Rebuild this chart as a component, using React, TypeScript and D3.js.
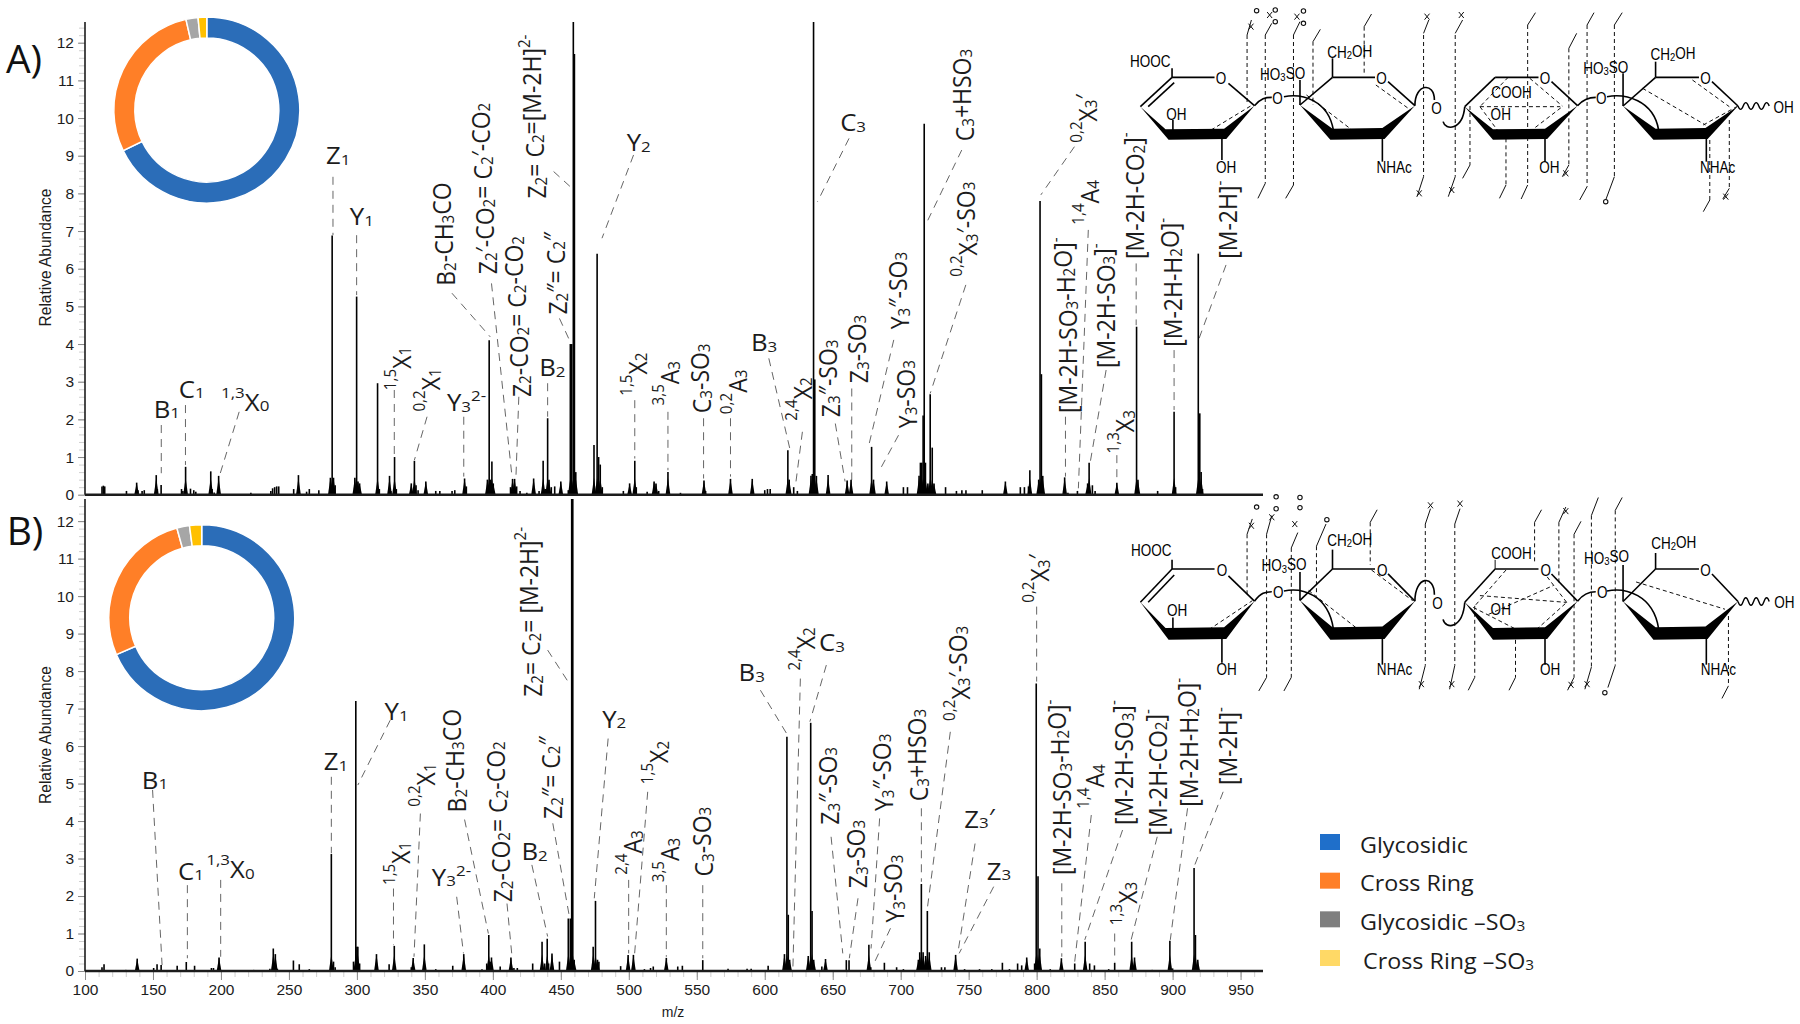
import React, { useEffect, useRef } from 'react';
import * as d3 from 'd3';

// m/z, relative abundance
const peaksA: [number, number][] = [
  [112.5, 0.22], [113.5, 0.24], [114.5, 0.22], [130.5, 0.1], [138, 0.32], [139, 0.12], [142, 0.1], [143.6, 0.12], [152.4, 0.52], [153.2, 0.15], [156, 0.26],
  [171, 0.15], [172, 0.1], [174, 0.74], [177.6, 0.16], [180, 0.12], [181.5, 0.08], [192.5, 0.62], [193.5, 0.15], [195, 0.06], [198.3, 0.5],
  [222, 0.05], [236.7, 0.1], [238, 0.17], [239.5, 0.2], [241, 0.22], [242.5, 0.22], [253.5, 0.15], [257, 0.52], [263, 0.08], [265, 0.15], [272, 0.12],
  [280.5, 0.45], [281.8, 6.88], [282.8, 0.45], [284, 0.25], [298.5, 0.45], [299.8, 5.26], [300.8, 0.35], [302, 0.3], [315.2, 2.96], [316.5, 0.15], [324, 0.5], [325, 0.1], [327.7, 1.0], [329, 0.15],
  [340, 0.3], [342.3, 0.9], [343.5, 0.25], [345, 0.12], [350.7, 0.35], [358, 0.1], [361, 0.1], [370, 0.1], [372, 0.12], [379.2, 0.43], [380.5, 0.22],
  [396, 0.4], [397.3, 4.1], [398.3, 0.4], [399.3, 0.88], [400.3, 0.3], [413, 0.2], [414.5, 0.42], [416, 0.42], [417.5, 0.22], [420, 0.1], [425, 0.05],
  [430, 0.43], [434, 0.1], [437, 0.9], [438.5, 0.15], [440.3, 2.03], [441.3, 0.4], [443, 0.2], [445.5, 0.22], [450, 0.35], [455.5, 0.12],
  [457, 4.0], [458, 4.0], [459.2, 12.55], [460, 11.7], [461, 0.6], [474.4, 1.32], [476.7, 6.4], [477.8, 1.0], [479, 0.8], [480.5, 0.2],
  [496, 0.1], [500.6, 0.3], [504.4, 0.9], [505.5, 0.2], [513.5, 0.08], [518.6, 0.35], [520, 0.3], [522, 0.1], [528.8, 0.6], [538, 0.05], [555.3, 0.38], [556.5, 0.1],
  [574.8, 0.42], [590.8, 0.42], [600, 0.12], [602, 0.15], [604, 0.15], [617, 1.18], [618, 0.4], [621.3, 0.2], [624, 0.1], [634, 0.5], [635, 0.55], [635.9, 12.55], [636.8, 3.06], [638, 0.5],
  [646.6, 0.52], [660.6, 0.38], [663.5, 0.4], [678.6, 1.27], [680, 0.4], [689.7, 0.35], [702, 0.2], [705, 0.2], [713.5, 0.5], [714.5, 0.85], [715.5, 0.85], [716.5, 2.1], [717.3, 9.85], [718.2, 0.85], [720, 0.3], [721.7, 2.67], [723.2, 1.25], [724.5, 0.3],
  [733, 0.2], [741, 0.1], [745, 0.12], [748, 0.12], [760, 0.12], [777, 0.35], [788, 0.2], [791, 0.2], [794, 0.22], [795, 0.65], [801.5, 0.4], [802.5, 7.8], [803.5, 3.2], [804.5, 0.5],
  [820.6, 0.46], [823, 0.05], [830, 0.1], [837.5, 0.3], [838.6, 0.85], [841, 0.25], [843, 0.1], [859, 0.32], [873.5, 4.46], [874.5, 0.4], [889, 0.1], [901.1, 2.2], [902.2, 0.2], [918.9, 6.4], [920, 2.16], [921, 0.6], [922, 0.15],
];

const peaksB: [number, number][] = [
  [112.5, 0.1], [114, 0.18], [130, 0.03], [138.4, 0.33], [150.5, 0.08], [153, 0.18], [156, 0.16], [167.8, 0.14], [174.5, 0.24], [180.6, 0.14], [193, 0.08], [194.5, 0.08], [198.6, 0.36],
  [222, 0.03], [224, 0.03], [236, 0.06], [238.5, 0.6], [240, 0.45], [241.5, 0.06], [253.3, 0.28], [257.6, 0.18], [265, 0.05], [272, 0.03], [281.2, 3.12], [282.8, 0.25], [284, 0.1],
  [297.5, 0.25], [299.2, 7.2], [300, 0.65], [300.7, 0.65], [302, 0.2], [314.4, 0.45], [323.7, 0.18], [327.5, 0.67], [340, 0.1], [341.4, 0.35], [349.6, 0.71], [358, 0.05], [370.5, 0.14], [378.6, 0.45],
  [392, 0.05], [395.5, 0.2], [397, 0.96], [398, 0.25], [399, 0.36], [405.4, 0.12], [413.3, 0.36], [415.5, 0.08], [418, 0.08], [429.3, 0.2], [436.2, 0.78], [438, 0.2], [440, 0.86], [441, 0.2], [443.5, 0.47], [449, 0.25],
  [455.5, 1.4], [457, 1.4], [458, 12.59], [458.8, 12.59], [459.8, 0.3], [473.8, 0.65], [475.5, 1.87], [477, 0.3], [478, 0.25],
  [494, 0.13], [499.5, 0.43], [503.4, 0.43], [511.5, 0.05], [516, 0.08], [518, 0.12], [527.6, 0.35], [536, 0.12], [539.4, 0.14], [554.4, 0.29], [573, 0.06], [587, 0.06], [590, 0.06], [602.5, 0.14],
  [614.5, 0.45], [616.3, 6.25], [617.3, 1.5], [618.3, 0.3], [632, 0.4], [633.8, 6.62], [634.8, 1.6], [636, 0.3], [642, 0.12], [644.7, 0.32], [660, 0.29], [662, 0.29], [676.6, 0.7], [678, 0.1], [688, 0.22], [697, 0.1], [702, 0.05],
  [713, 0.3], [714, 0.5], [715.2, 2.32], [716.5, 0.5], [718.3, 0.4], [719.6, 1.6], [721, 0.5], [730, 0.1], [732.5, 0.1], [740.4, 0.43], [747, 0.05], [758, 0.05], [767, 0.05], [774.8, 0.22], [780, 0.05],
  [786, 0.2], [789, 0.15], [792.7, 0.36], [798.5, 0.2], [799.7, 7.67], [801, 2.53], [802.3, 0.6], [810, 0.05], [818.2, 0.34], [828, 0.2], [835.7, 0.78], [839, 0.2], [842.5, 0.15], [853, 0.05], [857.4, 0.22],
  [869.9, 0.78], [872, 0.36], [885, 0.03], [898, 0.81], [900, 0.07], [915.8, 2.75], [916.8, 0.96], [918.5, 0.3],
];

const yTicks = d3.range(0, 13);
const xTicks = d3.range(100, 951, 50);

const fragmentTypes = ['Glycosidic', 'Cross Ring', 'Glycosidic –SO_{3}', 'Cross Ring –SO_{3}'];
const donutShareA = [67.8, 28.6, 2.1, 1.5];
const donutShareB = [68.5, 27.2, 2.2, 2.1];

type Note = { label: string; at: [number, number]; upright?: boolean; leader: [number, number, number, number] };

// label centre and leader ends are in data units (m/z, abundance)
const notesA: Note[] = [
  { label: 'B_{1}', at: [160.2, 2.29], leader: [156.1, 1.85, 156.1, 0.57] },
  { label: 'C_{1}', at: [178.5, 2.82], leader: [173.9, 2.38, 173.9, 0.79] },
  { label: '^{1,3}X_{0}', at: [217.8, 2.56], leader: [213.4, 2.2, 199.5, 0.57] },
  { label: 'Z_{1}', at: [286.2, 9.02], leader: [282.4, 8.44, 282.4, 6.89] },
  { label: 'Y_{1}', at: [303.6, 7.4], leader: [299.8, 6.89, 299.8, 5.3] },
  { label: '^{1,5}X_{1}', at: [329.2, 3.35], upright: true, leader: [327.5, 2.78, 327.5, 1.05] },
  { label: '^{0,2}X_{1}', at: [351, 2.78], upright: true, leader: [351.6, 2.07, 342.3, 0.92] },
  { label: 'Y_{3}^{2-}', at: [380.7, 2.47], leader: [378.6, 2.07, 378.6, 0.48] },
  { label: 'B_{2}-CH_{3}CO', at: [364.7, 6.92], upright: true, leader: [369.9, 5.35, 398.1, 4.19] },
  { label: 'Z_{2}′-CO_{2}= C_{2}′-CO_{2}', at: [395.2, 8.13], upright: true, leader: [399, 5.61, 414.1, 0.48] },
  { label: 'Z_{2}-CO_{2}= C_{2}-CO_{2}', at: [420, 4.73], upright: true, leader: [419.1, 2.6, 417, 0.48] },
  { label: 'B_{2}', at: [443.8, 3.4], leader: [440.3, 2.96, 440.3, 2.07] },
  { label: 'Z_{2}″= C_{2}″', at: [447, 5.88], upright: true, leader: [449, 4.68, 456.9, 4.06] },
  { label: 'Z_{2}= C_{2}=[M-2H]^{2-}', at: [431.6, 10.04], upright: true, leader: [444.7, 8.58, 458.4, 8.13] },
  { label: 'Y_{2}', at: [507.3, 9.37], leader: [503.5, 9.02, 480.3, 6.81] },
  { label: '^{1,5}X_{2}', at: [502.7, 3.2], upright: true, leader: [504.4, 2.51, 504.4, 0.96] },
  { label: '^{3,5}A_{3}', at: [526.8, 2.96], upright: true, leader: [528.8, 2.2, 528.8, 0.65] },
  { label: 'C_{3}-SO_{3}', at: [553, 3.09], upright: true, leader: [555, 2.03, 555, 0.43] },
  { label: '^{0,2}A_{3}', at: [576.2, 2.73], upright: true, leader: [574.8, 2.03, 574.8, 0.48] },
  { label: 'B_{3}', at: [599.5, 4.06], leader: [603, 3.62, 618.4, 1.23] },
  { label: '^{2,4}X_{2}', at: [624.2, 2.54], upright: true, leader: [627.7, 1.67, 622.8, 0.3] },
  { label: 'Z_{3}″-SO_{3}', at: [647.5, 3.09], upright: true, leader: [651.9, 1.89, 659.1, 0.35] },
  { label: 'Z_{3}-SO_{3}', at: [668.4, 3.87], upright: true, leader: [664, 2.82, 664, 0.39] },
  { label: 'Y_{3}″-SO_{3}', at: [698.4, 5.42], upright: true, leader: [694.9, 4.11, 676.6, 1.32] },
  { label: 'Y_{3}-SO_{3}', at: [704.2, 2.67], upright: true, leader: [698.4, 1.58, 683.9, 0.61] },
  { label: 'C_{3}', at: [665, 9.9], leader: [662, 9.46, 638.8, 7.78] },
  { label: 'C_{3}+HSO_{3}', at: [745.8, 10.61], upright: true, leader: [744.9, 9.15, 718.8, 7.2] },
  { label: '^{0,2}X_{3}′-SO_{3}', at: [745.8, 7.05], upright: true, leader: [747.9, 5.57, 721.7, 2.69] },
  { label: '^{0,2}X_{3}′', at: [833.6, 9.99], upright: true, leader: [827.8, 9.24, 803.1, 7.96] },
  { label: '[M-2H-SO_{3}-H_{2}O]^{-}', at: [822, 4.5], upright: true, leader: [821.2, 2.07, 821.2, 0.48] },
  { label: '^{1,4}A_{4}', at: [835.1, 7.76], upright: true, leader: [838, 7.03, 830.7, 0.17] },
  { label: '[M-2H-SO_{3}]^{-}', at: [849.7, 5.02], upright: true, leader: [851.1, 3.31, 839.5, 0.88] },
  { label: '^{1,3}X_{3}', at: [861.3, 1.67], upright: true, leader: [859, 1.05, 859, 0.35] },
  { label: '[M-2H-CO_{2}]^{-}', at: [871.5, 7.94], upright: true, leader: [873.2, 6.14, 873.2, 4.5] },
  { label: '[M-2H-H_{2}O]^{-}', at: [899.1, 5.64], upright: true, leader: [901.1, 3.84, 901.1, 2.25] },
  { label: '[M-2H]^{-}', at: [939.3, 7.3], upright: true, leader: [939.3, 6.1, 919.5, 4.15] },
];

const notesB: Note[] = [
  { label: 'B_{1}', at: [151.5, 5.11], leader: [149.7, 4.83, 156.7, 0.16] },
  { label: 'C_{1}', at: [178, 2.68], leader: [175.3, 2.29, 175.3, 0.34] },
  { label: '^{1,3}X_{0}', at: [207, 2.81], leader: [199.8, 2.43, 199.8, 0.38] },
  { label: 'Z_{1}', at: [284.7, 5.61], leader: [281.2, 5.18, 281.2, 3.14] },
  { label: 'Y_{1}', at: [329.2, 6.94], leader: [324.5, 6.69, 300.7, 4.96] },
  { label: '^{1,5}X_{1}', at: [328.9, 2.87], upright: true, leader: [326.9, 2.2, 326.9, 0.69] },
  { label: '^{0,2}X_{1}', at: [347.2, 4.96], upright: true, leader: [346.7, 4.2, 342, 0.38] },
  { label: 'B_{2}-CH_{3}CO', at: [372.5, 5.61], upright: true, leader: [379.2, 4.04, 396.7, 1.0] },
  { label: 'Y_{3}^{2-}', at: [369.6, 2.52], leader: [373.4, 1.98, 378.4, 0.47] },
  { label: 'Z_{2}-CO_{2}= C_{2}-CO_{2}', at: [406.3, 3.98], upright: true, leader: [410.4, 1.8, 414.1, 0.38] },
  { label: 'B_{2}', at: [430.7, 3.21], leader: [428.7, 2.83, 440.3, 0.92] },
  { label: 'Z_{2}″= C_{2}″', at: [443.2, 5.16], upright: true, leader: [444.1, 3.94, 456.3, 1.45] },
  { label: 'Z_{2}= C_{2}= [M-2H]^{2-}', at: [428.7, 9.58], upright: true, leader: [440.3, 8.56, 456.9, 7.63] },
  { label: 'Y_{2}', at: [489.3, 6.74], leader: [484.8, 6.2, 474.6, 1.94] },
  { label: '^{2,4}A_{3}', at: [499.5, 3.16], upright: true, leader: [499.9, 2.43, 499.9, 0.47] },
  { label: '^{1,5}X_{2}', at: [518.7, 5.56], upright: true, leader: [513.9, 4.78, 504.3, 0.47] },
  { label: '^{3,5}A_{3}', at: [526.6, 2.96], upright: true, leader: [527.6, 2.29, 527.6, 0.38] },
  { label: 'C_{3}-SO_{3}', at: [554.4, 3.45], upright: true, leader: [554.4, 2.29, 554.4, 0.34] },
  { label: 'B_{3}', at: [590.4, 7.98], leader: [596.8, 7.49, 616, 6.34] },
  { label: '^{2,4}X_{2}', at: [626.2, 8.59], upright: true, leader: [626.2, 7.8, 620.7, 0.07] },
  { label: 'C_{3}', at: [649.5, 8.78], leader: [645.3, 8.16, 633.2, 6.65] },
  { label: 'Z_{3}″-SO_{3}', at: [646.9, 4.94], upright: true, leader: [648.8, 3.58, 657.4, 0.47] },
  { label: 'Z_{3}-SO_{3}', at: [667.6, 3.12], upright: true, leader: [668.6, 1.94, 662.2, 0.34] },
  { label: 'Y_{3}″-SO_{3}', at: [686.8, 5.3], upright: true, leader: [684.5, 4.07, 678.2, 0.6] },
  { label: 'Y_{3}-SO_{3}', at: [695, 2.2], upright: true, leader: [692.5, 1.14, 679.8, 0.16] },
  { label: 'C_{3}+HSO_{3}', at: [712.6, 5.76], upright: true, leader: [715.2, 4.34, 715.2, 2.38] },
  { label: '^{0,2}X_{3}′-SO_{3}', at: [740.4, 7.94], upright: true, leader: [736.5, 6.38, 719.6, 1.67] },
  { label: 'Z_{3}′', at: [757.9, 4.07], leader: [754.7, 3.4, 742, 0.47] },
  { label: 'Z_{3}', at: [772.3, 2.69], leader: [768.4, 2.25, 743, 0.47] },
  { label: '^{0,2}X_{3}′', at: [798.7, 10.47], upright: true, leader: [800, 9.72, 800, 7.72] },
  { label: '[M-2H-SO_{3}-H_{2}O]^{-}', at: [817.6, 4.9], upright: true, leader: [818.5, 2.34, 818.5, 0.38] },
  { label: '^{1,4}A_{4}', at: [839.2, 4.92], upright: true, leader: [840.2, 4.16, 828, 0.25] },
  { label: '[M-2H-SO_{3}]^{-}', at: [863.2, 5.56], upright: true, leader: [863.2, 3.76, 835.4, 0.83] },
  { label: '^{1,3}X_{3}', at: [863.2, 1.8], upright: true, leader: [857.4, 1.0, 857.4, 0.25] },
  { label: '[M-2H-CO_{2}]^{-}', at: [888, 5.3], upright: true, leader: [888.7, 3.58, 869.5, 0.83] },
  { label: '[M-2H-H_{2}O]^{-}', at: [911, 6.1], upright: true, leader: [911, 4.34, 898.3, 0.83] },
  { label: '[M-2H]^{-}', at: [939.7, 6.0], upright: true, leader: [937.2, 4.78, 915.8, 2.78] },
];

// --- the tetrasaccharide drawing, in its own 1568-wide sketch units ---
const ringWedges = [
  [[47, 320], [105, 388], [240, 386], [310, 317], [245, 417], [112, 419]],
  [[415, 315], [490, 386], [605, 384], [680, 317], [610, 417], [485, 419]],
  [[795, 320], [860, 388], [980, 386], [1055, 317], [985, 417], [860, 419]],
  [[1160, 318], [1235, 386], [1350, 384], [1425, 318], [1355, 417], [1230, 419]],
];
const bonds = [
  [120, 205, 120, 232], [120, 232, 218, 232], [120, 232, 47, 320], [125, 248, 65, 320], [250, 250, 310, 317], [122, 360, 122, 398], [235, 415, 235, 480],
  [415, 240, 415, 315], [415, 315, 490, 232], [490, 232, 588, 232], [618, 245, 680, 317], [490, 175, 490, 232], [605, 415, 605, 485],
  [795, 320, 865, 232], [865, 232, 965, 232], [995, 245, 1055, 317], [980, 415, 980, 485],
  [1160, 220, 1160, 318], [1160, 318, 1235, 232], [1235, 232, 1335, 232], [1365, 245, 1425, 318], [1235, 185, 1235, 232], [1352, 415, 1352, 485],
];
const linkCurves = [
  [310, 317, 325, 295, 335, 292, 350, 292], [378, 290, 420, 280, 480, 300, 492, 390],
  [680, 317, 680, 250, 725, 245, 725, 300], [745, 365, 750, 392, 790, 392, 795, 320],
  [1055, 317, 1070, 295, 1085, 292, 1097, 292], [1123, 290, 1165, 280, 1230, 300, 1242, 390],
];

const dashesA = [
  [293, 105, 293, 315], [335, 105, 335, 550], [400, 105, 400, 555], [445, 125, 445, 315], [563, 80, 563, 225], [700, 105, 700, 530], [773, 105, 773, 530], [807, 318, 807, 495],
  [890, 415, 890, 555], [940, 75, 940, 555], [1035, 145, 1035, 495], [1077, 75, 1077, 560], [1140, 75, 1140, 530], [1360, 420, 1360, 600], [1405, 360, 1405, 565],
  [210, 390, 305, 315], [430, 285, 540, 395], [590, 255, 670, 330], [895, 232, 830, 320], [830, 320, 1015, 320], [830, 320, 870, 390], [945, 395, 1020, 320], [945, 235, 1020, 318],
  [1205, 265, 1350, 375], [1320, 240, 1405, 320], [1345, 375, 1425, 318],
];
const ticksA = [
  [293, 105, 303, 60], [335, 105, 350, 70], [400, 105, 415, 65], [445, 125, 462, 88], [563, 80, 580, 42], [700, 100, 712, 60], [773, 100, 790, 60], [940, 75, 958, 38], [1035, 145, 1053, 100], [1077, 75, 1093, 38], [1140, 75, 1158, 38],
  [335, 550, 318, 595], [400, 555, 382, 595], [700, 530, 685, 590], [773, 530, 757, 590], [807, 495, 790, 535], [890, 555, 875, 595], [940, 555, 925, 597], [1035, 495, 1020, 530], [1077, 560, 1060, 600], [1140, 530, 1120, 600], [1360, 600, 1345, 635], [1405, 565, 1390, 597],
];
const ringsA = [[315, 32], [358, 30], [358, 65], [423, 33], [423, 70], [1120, 605]];
const crossesA = [[302, 80], [345, 45], [408, 50], [708, 50], [787, 45], [690, 580], [765, 570], [1028, 520], [1397, 590]];
const atomsA: [string, number, number][] = [
  ['HOOC', 70, 182], ['O', 233, 233], ['OH', 130, 340], ['OH', 245, 500], ['HO_{3}SO', 375, 220], ['O', 363, 292], ['CH_{2}OH', 530, 155], ['O', 603, 232], ['NHAc', 632, 500], ['O', 730, 322],
  ['COOH', 903, 275], ['O', 980, 232], ['OH', 878, 340], ['OH', 990, 500], ['HO_{3}SO', 1120, 203], ['O', 1110, 292], ['CH_{2}OH', 1275, 160], ['O', 1350, 232], ['NHAc', 1378, 500], ['OH', 1530, 320],
];

const dashesB = [
  [293, 130, 293, 310], [338, 130, 338, 550], [395, 170, 395, 550], [453, 165, 453, 310], [577, 95, 577, 220], [704, 100, 704, 515], [772, 100, 772, 515], [818, 340, 818, 550],
  [912, 440, 912, 550], [956, 95, 956, 215], [1012, 95, 1012, 280], [1047, 130, 1047, 550], [1087, 75, 1087, 520], [1142, 60, 1142, 515], [1403, 370, 1403, 575],
  [205, 410, 305, 325], [435, 295, 545, 405], [580, 235, 675, 325], [890, 235, 815, 345], [815, 345, 915, 410], [850, 365, 1000, 280], [960, 410, 1030, 330], [985, 255, 1030, 330], [830, 310, 1030, 330],
  [1190, 270, 1395, 350],
];
const ticksB = [
  [293, 130, 305, 85], [338, 130, 350, 75], [395, 170, 410, 125], [453, 165, 475, 100], [577, 95, 593, 58], [704, 100, 716, 55], [772, 100, 784, 55], [956, 95, 972, 58], [1012, 95, 1028, 50], [1047, 130, 1063, 92], [1087, 75, 1103, 22], [1142, 60, 1158, 22],
  [338, 550, 320, 590], [395, 550, 378, 590], [704, 515, 690, 585], [772, 515, 760, 585], [818, 550, 803, 588], [912, 550, 897, 588], [1047, 550, 1032, 588], [1087, 520, 1072, 585], [1142, 515, 1125, 580], [1403, 575, 1388, 612],
  [865, 205, 865, 232],
];
const ringsB = [[315, 50], [360, 20], [360, 55], [415, 22], [415, 52], [477, 87], [1118, 595]];
const crossesB = [[303, 105], [350, 80], [403, 100], [716, 45], [784, 40], [1028, 62], [695, 570], [765, 570], [1040, 572], [1077, 570]];
const atomsB: [string, number, number][] = [
  ['HOOC', 72, 175], ['O', 235, 233], ['OH', 132, 350], ['OH', 246, 525], ['HO_{3}SO', 378, 220], ['O', 365, 298], ['CH_{2}OH', 530, 145], ['O', 605, 232], ['NHAc', 633, 523], ['O', 732, 330],
  ['COOH', 903, 182], ['O', 982, 233], ['OH', 878, 348], ['OH', 992, 525], ['HO_{3}SO', 1122, 197], ['O', 1112, 298], ['CH_{2}OH', 1277, 155], ['O', 1350, 232], ['NHAc', 1380, 523], ['OH', 1532, 327],
];

const INK = '#1c1c1c';
const TICK_FONT = '"Liberation Sans", Arial, sans-serif';
const LABEL_FONT = '"Open Sans", sans-serif';
const STRETCH = 1.12; // the source figure is a little wider than tall
const donutColors = ['#2b6db8', '#ff7f27', '#a6a6a6', '#ffc000'];
const legendColors = ['#1f6fca', '#ff7f27', '#7f7f7f', '#ffd966'];

const x = d3.scaleLinear().domain([100, 966.5]).range([85, 1263]);
const yTop = d3.scaleLinear().domain([0, 12.55]).range([494.7, 22]);
const yBottom = d3.scaleLinear().domain([0, 12.59]).range([971, 499]);

// "Z_{2}" / "^{1,3}X" mini markup -> tspans
function Rich({ text, sub = 0.66 }: { text: string; sub?: number }) {
  const parts = text.match(/_\{[^}]*\}|\^\{[^}]*\}|[^_^]+/g) || [];
  let shift = 0;
  return (
    <>
      {parts.map((p, i) => {
        let target = 0;
        let content = p;
        let small = false;
        if (p[0] === '_') { target = 0.28; content = p.slice(2, -1); small = true; }
        if (p[0] === '^') { target = -0.42; content = p.slice(2, -1); small = true; }
        const dy = `${target - shift}em`;
        shift = target;
        return <tspan key={i} dy={dy} fontSize={small ? `${sub}em` : undefined}>{content}</tspan>;
      })}
    </>
  );
}

function Spectrum({ peaks, notes, y, showX }: { peaks: [number, number][]; notes: Note[]; y: d3.ScaleLinear<number, number>; showX: boolean }) {
  const leftMinor = useRef<SVGGElement>(null);
  const leftMajor = useRef<SVGGElement>(null);
  const bottom = useRef<SVGGElement>(null);
  const base = y(0);

  useEffect(() => {
    const minor = d3.axisLeft(y).tickValues(d3.range(0, 12.55, 0.2)).tickSize(6).tickFormat(() => '');
    d3.select(leftMinor.current).call(minor as any).call((g: any) => {
      g.select('.domain').remove();
      g.selectAll('line').attr('stroke', '#d0d0d0');
    });
    const major = d3.axisLeft(y).tickValues(yTicks).tickSize(7).tickPadding(4).tickFormat(d3.format('d') as any);
    d3.select(leftMajor.current).call(major as any).call((g: any) => {
      g.select('.domain').remove();
      g.selectAll('line').attr('stroke', '#8a8a8a');
      g.selectAll('text').attr('font-family', TICK_FONT).attr('font-size', 15.5).attr('fill', INK);
    });
    if (showX && bottom.current) {
      const xg = d3.select(bottom.current);
      const xMinor = d3.axisBottom(x).tickValues(d3.range(100, 966, 10)).tickSize(6).tickFormat(() => '');
      xg.append('g').call(xMinor as any).call((g: any) => {
        g.select('.domain').remove();
        g.selectAll('line').attr('stroke', '#cfcfcf');
      });
      const xMajor = d3.axisBottom(x).tickValues(xTicks).tickSize(9).tickPadding(4).tickFormat(d3.format('d') as any);
      xg.append('g').call(xMajor as any).call((g: any) => {
        g.select('.domain').remove();
        g.selectAll('line').attr('stroke', '#8a8a8a');
        g.selectAll('text').attr('font-family', TICK_FONT).attr('font-size', 15.5).attr('fill', INK);
      });
    }
    return () => {
      if (bottom.current) d3.select(bottom.current).selectAll('*').remove();
    };
  }, []);

  return (
    <g>
      <g ref={leftMinor} transform={`translate(${x(100)},0)`} />
      <g ref={leftMajor} transform={`translate(${x(100)},0)`} />
      {showX && <g ref={bottom} transform={`translate(0,${base})`} />}
      {notes.map((n, i) => (
        <line key={i} x1={x(n.leader[0])} y1={y(n.leader[1])} x2={x(n.leader[2])} y2={y(n.leader[3])} stroke="#666" strokeWidth={1} strokeDasharray="8 6" />
      ))}
      {peaks.map(([mz, v], i) => (
        <g key={i}>
          <line x1={x(mz)} x2={x(mz)} y1={base} y2={y(v)} stroke="#000" strokeWidth={1.6} />
          {v >= 0.3 && <path d={`M${x(mz) - 2.4},${base}L${x(mz)},${y(Math.min(v, 0.45))}L${x(mz) + 2.4},${base}Z`} fill="#000" />}
        </g>
      ))}
      <line x1={x(100)} x2={x(966.5)} y1={base} y2={base} stroke={INK} strokeWidth={2.4} />
      <line x1={x(100)} x2={x(100)} y1={base} y2={y.range()[1]} stroke={INK} strokeWidth={1.6} />
      {notes.map((n, i) => (
        <text
          key={i}
          fontFamily={LABEL_FONT}
          fontSize={23}
          fill={INK}
          textAnchor="middle"
          dominantBaseline="central"
          transform={`translate(${x(n.at[0])},${y(n.at[1])}) scale(${STRETCH},1)${n.upright ? ' rotate(-90)' : ''}`}
        >
          <Rich text={n.label} />
        </text>
      ))}
    </g>
  );
}

function Donut({ values, cx, cy }: { values: number[]; cx: number; cy: number }) {
  const arcs = d3.pie<number>().sort(null)(values);
  const arc = d3.arc<d3.PieArcDatum<number>>().innerRadius(72).outerRadius(93);
  return (
    <g transform={`translate(${cx},${cy})`}>
      {arcs.map((a, i) => (
        <path key={i} d={arc(a) || ''} fill={donutColors[i]} stroke="#fff" strokeWidth={1.5} />
      ))}
    </g>
  );
}

function Molecule({ top, dashes, ticks, rings, crosses, atoms, stretch, rowScale }: {
  top: number; dashes: number[][]; ticks: number[][]; rings: number[][]; crosses: number[][]; atoms: [string, number, number][]; stretch: number; rowScale: number;
}) {
  const sx = d3.scaleLinear().domain([0, 1568]).range([1120, 1800]);
  const raw = (v: number) => top + v / rowScale;
  const sy = (v: number) => top + (v <= 232 ? v : 232 + (v - 232) * stretch) / rowScale;
  const outline = d3.line<number[]>().x((d) => sx(d[0])).y((d) => sy(d[1]));
  const curves = linkCurves.map((c) => {
    const p = d3.path();
    p.moveTo(sx(c[0]), sy(c[1]));
    p.bezierCurveTo(sx(c[2]), sy(c[3]), sx(c[4]), sy(c[5]), sx(c[6]), sy(c[7]));
    return p.toString();
  });
  const wave = d3.path();
  wave.moveTo(sx(1425), sy(318));
  d3.range(6).forEach((i) => {
    wave.quadraticCurveTo(sx(1431 + i * 12), sy(i % 2 ? 298 : 338), sx(1437 + i * 12), sy(318));
  });
  return (
    <g>
      {dashes.map((d, i) => (
        <line key={i} x1={sx(d[0])} y1={raw(d[1])} x2={sx(d[2])} y2={raw(d[3])} stroke="#111" strokeWidth={1} strokeDasharray="4 3" />
      ))}
      {ticks.map((d, i) => (
        <line key={i} x1={sx(d[0])} y1={raw(d[1])} x2={sx(d[2])} y2={raw(d[3])} stroke="#111" strokeWidth={1} />
      ))}
      {rings.map((d, i) => (
        <circle key={i} cx={sx(d[0])} cy={raw(d[1])} r={2.2} fill="#fff" stroke="#111" strokeWidth={1.1} />
      ))}
      {crosses.map((d, i) => (
        <g key={i} stroke="#111" strokeWidth={1}>
          <line x1={sx(d[0]) - 2.5} x2={sx(d[0]) + 2.5} y1={raw(d[1]) - 3} y2={raw(d[1]) + 3} />
          <line x1={sx(d[0]) + 2.5} x2={sx(d[0]) - 2.5} y1={raw(d[1]) - 3} y2={raw(d[1]) + 3} />
        </g>
      ))}
      {bonds.map((b, i) => (
        <line key={i} x1={sx(b[0])} y1={sy(b[1])} x2={sx(b[2])} y2={sy(b[3])} stroke="#000" strokeWidth={1.6} />
      ))}
      {ringWedges.map((w, i) => (
        <path key={i} d={(outline(w) || '') + 'Z'} fill="#000" />
      ))}
      {curves.map((d, i) => (
        <path key={i} d={d} fill="none" stroke="#000" strokeWidth={1.6} />
      ))}
      <path d={wave.toString()} fill="none" stroke="#000" strokeWidth={1.4} />
      {atoms.map(([t, ax, ay], i) => (
        <text
          key={i}
          fontFamily={TICK_FONT}
          fontSize={16.5}
          fill="#000"
          textAnchor="middle"
          dominantBaseline="central"
          transform={`translate(${sx(ax)},${raw(ay)}) scale(0.82,1)`}
        >
          <Rich text={t} sub={0.7} />
        </text>
      ))}
    </g>
  );
}

function Legend() {
  const band = d3.scalePoint<string>().domain(fragmentTypes).range([842, 958]);
  return (
    <g>
      {fragmentTypes.map((t, i) => (
        <g key={t}>
          <rect x={1320} y={(band(t) as number) - 8} width={20} height={16} fill={legendColors[i]} />
          <text transform={`translate(${i === 3 ? 1363 : 1360},${(band(t) as number) + 2}) scale(1.06,1)`} fontFamily={LABEL_FONT} fontSize={22} fill={INK} dominantBaseline="central">
            <Rich text={t} />
          </text>
        </g>
      ))}
    </g>
  );
}

export default function App() {
  return (
    <svg width={1800} height={1024} style={{ position: 'absolute', left: 0, top: 0, background: '#fff' }}>
      <Spectrum peaks={peaksA} notes={notesA} y={yTop} showX={false} />
      <Spectrum peaks={peaksB} notes={notesB} y={yBottom} showX={true} />
      <Donut values={donutShareA} cx={206.8} cy={110} />
      <Donut values={donutShareB} cx={201.7} cy={617.7} />
      <text x={24} y={57} fontFamily={LABEL_FONT} fontSize={39} fill="#111" textAnchor="middle" dominantBaseline="central">A)</text>
      <text x={25} y={529} fontFamily={LABEL_FONT} fontSize={39} fill="#111" textAnchor="middle" dominantBaseline="central">B)</text>
      <text transform="translate(44.5,257.5) scale(1.1,1) rotate(-90)" fontFamily={TICK_FONT} fontSize={15.5} fill={INK} textAnchor="middle" dominantBaseline="central">Relative Abundance</text>
      <text transform="translate(44.5,735) scale(1.1,1) rotate(-90)" fontFamily={TICK_FONT} fontSize={15.5} fill={INK} textAnchor="middle" dominantBaseline="central">Relative Abundance</text>
      <text x={673} y={1012} fontFamily={TICK_FONT} fontSize={14} fill={INK} textAnchor="middle" dominantBaseline="central">m/z</text>
      <Molecule top={0} dashes={dashesA} ticks={ticksA} rings={ringsA} crosses={crossesA} atoms={atomsA} stretch={1} rowScale={3} />
      <Molecule top={490} dashes={dashesB} ticks={ticksB} rings={ringsB} crosses={crossesB} atoms={atomsB} stretch={1.11} rowScale={2.936} />
      <Legend />
    </svg>
  );
}
